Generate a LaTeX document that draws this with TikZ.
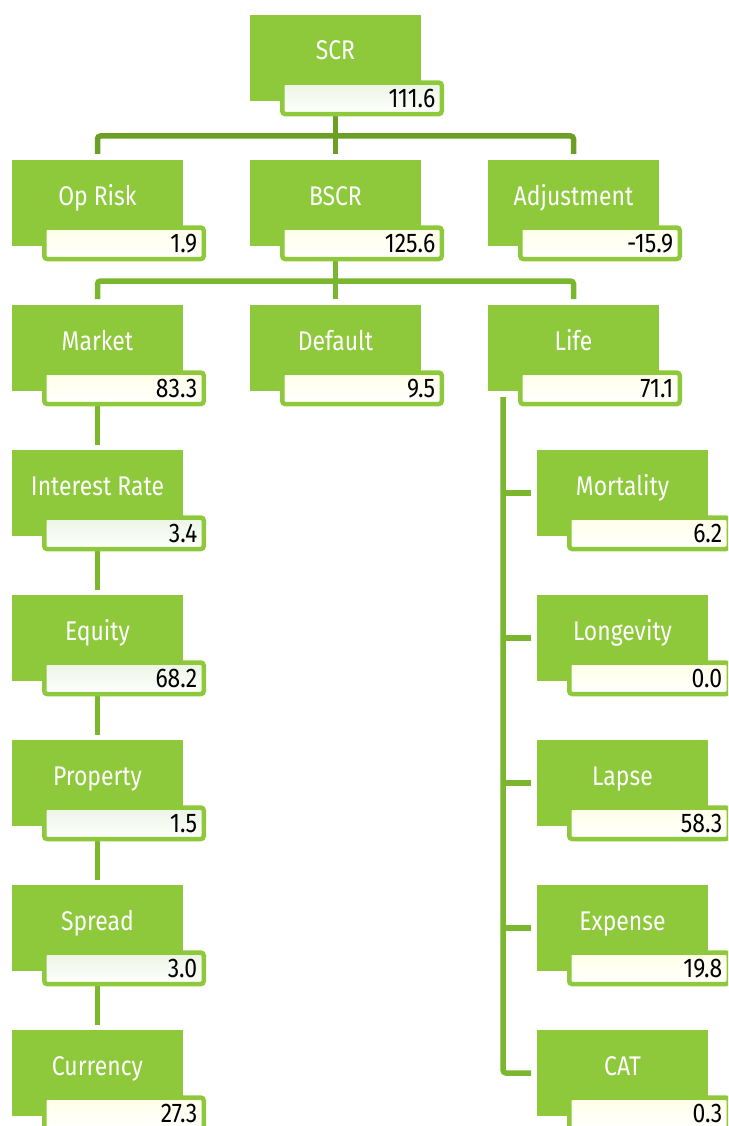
\documentclass[tikz,border=0pt]{standalone}
\usepackage{fontspec}
\setmainfont{Fira Sans}[FakeStretch=0.85]
\usepackage{xcolor}
\usepackage{tikz}
\usetikzlibrary{backgrounds}

\definecolor{boxgreen}{RGB}{141,201,58}
\definecolor{lvlone}{RGB}{107,160,37}
\definecolor{lvltwo}{RGB}{122,182,46}
\definecolor{cream}{RGB}{255,255,232}
\definecolor{mint}{RGB}{236,245,228}

\begin{document}
\begin{tikzpicture}[x=1pt,y=-1pt,
  risk/.style={fill=boxgreen,minimum width=171pt,minimum height=86pt,inner sep=0pt,
               outer sep=0pt,anchor=north west,text=white,text height=18pt,text depth=14pt,
               font=\fontsize{27}{30}\selectfont},
  val/.style={draw=boxgreen,line width=4.5pt,rounded corners=3pt,top color=cream,
              bottom color=white,minimum height=31.5pt,text width=146.5pt,inner xsep=6.5pt,
              inner ysep=0pt,outer sep=0pt,align=right,text height=19pt,text depth=0pt,
              anchor=north west,xshift=32.25pt,yshift=18.45pt,
              font=\fontsize{27}{30}\selectfont},
  valg/.style={val,top color=mint},
  tree/.style={line width=5.5pt,rounded corners=3pt,lvltwo}]

  \clip (0,0) rectangle (728,1126);

  % top levels
  \node[risk] (scr)    at (250,15)  {SCR};
  \node[valg] (scrv)   at (scr.south west) {111.6};
  \node[risk] (oprisk) at (12,160)  {Op Risk};
  \node[val]  (opriskv) at (oprisk.south west) {1.9};
  \node[risk] (bscr)   at (250,160) {BSCR};
  \node[val]  (bscrv)  at (bscr.south west) {125.6};
  \node[risk] (adjust) at (488,160) {Adjustment};
  \node[val]  (adjustv) at (adjust.south west) {-15.9};

  \node[risk] (market)  at (12,305)  {Market};
  \node[val]  (marketv) at (market.south west) {83.3};
  \node[risk] (default) at (250,305) {Default};
  \node[val]  (defaultv) at (default.south west) {9.5};
  \node[risk] (life)    at (488,305) {Life};
  \node[val]  (lifev)   at (life.south west) {71.1};

  % market modules
  \node[risk] (interest) at (12,450)  {Interest Rate};
  \node[valg] (interestv) at (interest.south west) {3.4};
  \node[risk] (equity)   at (12,595)  {Equity};
  \node[valg] (equityv)  at (equity.south west) {68.2};
  \node[risk] (property) at (12,740)  {Property};
  \node[valg] (propertyv) at (property.south west) {1.5};
  \node[risk] (spread)   at (12,885)  {Spread};
  \node[valg] (spreadv)  at (spread.south west) {3.0};
  \node[risk] (currency) at (12,1030) {Currency};
  \node[val]  (currencyv) at (currency.south west) {27.3};

  % life modules
  \node[risk] (mortality) at (537,450)  {Mortality};
  \node[val]  (mortalityv) at (mortality.south west) {6.2};
  \node[risk] (longevity) at (537,595)  {Longevity};
  \node[val]  (longevityv) at (longevity.south west) {0.0};
  \node[risk] (lapse)     at (537,740)  {Lapse};
  \node[val]  (lapsev)    at (lapse.south west) {58.3};
  \node[risk] (expense)   at (537,885)  {Expense};
  \node[val]  (expensev)  at (expense.south west) {19.8};
  \node[risk] (cat)       at (537,1030) {CAT};
  \node[val]  (catv)      at (cat.south west) {0.3};

  \begin{scope}[on background layer]
    % SCR split
    \draw[tree,lvlone] ([yshift=6pt]oprisk.north) |- ([yshift=24pt]bscr.north)
      -| ([yshift=6pt]adjust.north);
    \draw[tree,lvlone] (scr) -- ([yshift=6pt]bscr.north);
    % BSCR split
    \draw[tree] ([yshift=6pt]market.north) |- ([yshift=24pt]default.north)
      -| ([yshift=6pt]life.north);
    \draw[tree] (bscr) -- ([yshift=6pt]default.north);
    % market chain
    \draw[tree] (market) -- ([yshift=5pt]interest.north);
    \draw[tree] (interest) -- ([yshift=5pt]equity.north);
    \draw[tree] (equity) -- ([yshift=5pt]property.north);
    \draw[tree] (property) -- ([yshift=5pt]spread.north);
    \draw[tree] (spread) -- ([yshift=5pt]currency.north);
    % life bus
    \draw[tree] ([xshift=15pt,yshift=-6pt]life.south west) |- ([xshift=-6pt]cat.west);
    \foreach \n in {mortality,longevity,lapse,expense}
      \draw[tree] ([xshift=-6pt]\n.west) -- ([xshift=-34pt]\n.west);
  \end{scope}
\end{tikzpicture}
\end{document}
